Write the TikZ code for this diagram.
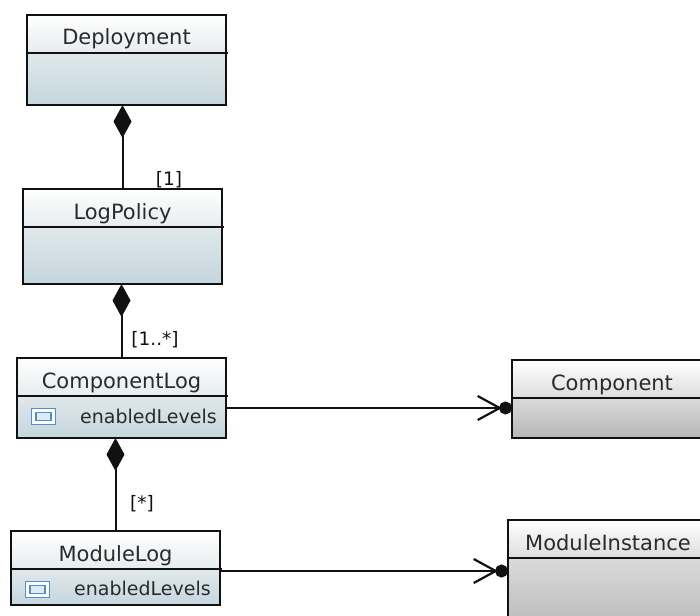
\documentclass[tikz,border=0pt]{standalone}
\usepackage{fontspec}
\setmainfont{DejaVu Sans}
\usetikzlibrary{arrows.meta}
\definecolor{edgeblack}{HTML}{111111}
\definecolor{labeltext}{HTML}{2A2A2A}
\definecolor{iconblue}{HTML}{4F8FCB}
\definecolor{iconfill}{HTML}{DCEBF5}
\definecolor{bluehead}{HTML}{E6ECEE}
\definecolor{grayhead}{HTML}{DCDCDC}
\definecolor{bluetop}{HTML}{E0E8EA}
\definecolor{bluebottom}{HTML}{C5D6DE}
\definecolor{graytop}{HTML}{DADADA}
\definecolor{graybottom}{HTML}{B6B6B6}
\tikzset{
    headbox/.style={draw=edgeblack,line width=1.6pt,inner sep=0pt,outer sep=0pt,text=labeltext,font=\fontsize{21}{24}\selectfont,text height=27pt,text depth=5pt,anchor=north west,top color=white,bottom color=#1},
    headbox/.default={bluehead},
    bodybox/.style n args={2}{draw=edgeblack,line width=1.6pt,inner sep=0pt,outer sep=0pt,anchor=north,top color=#1,bottom color=#2},
    bluebody/.style={bodybox={bluetop}{bluebottom}},
    graybody/.style={bodybox={graytop}{graybottom}},
    attrtext/.style={anchor=west,inner sep=0pt,text=labeltext,font=\fontsize{19}{23}\selectfont},
    multtext/.style={inner sep=0pt,text=edgeblack,font=\fontsize{18.5}{21}\selectfont},
    iconouter/.style={draw=iconblue,line width=1.6pt,fill=white,minimum width=24pt,minimum height=16pt,inner sep=0pt},
    iconinner/.style={draw=iconblue,line width=1.2pt,fill=iconfill,minimum width=15pt,minimum height=8pt,inner sep=0pt},
    compline/.style={edgeblack,line width=2pt,-{Diamond[length=33pt,width=18pt]}},
    refline/.style={edgeblack,line width=1.8pt,-{Straight Barb[length=22pt,width=24pt,line width=2.2pt,sep=-3pt]Circle[length=13pt]}},
    divider/.style={edgeblack,line width=1.6pt},
}
\begin{document}
\begin{tikzpicture}[x=1pt,y=-1pt]
    \useasboundingbox (0,0) rectangle (700,615);

    % classes on the left
    \node[headbox,minimum width=199pt,minimum height=38pt] (deployhead) at (27,15){Deployment};
    \node[bluebody,minimum width=199pt,minimum height=52pt] (deploybody) at (deployhead.south){};
    \node[headbox,minimum width=199pt,minimum height=38pt] (policyhead) at (23,189){LogPolicy};
    \node[bluebody,minimum width=199pt,minimum height=57pt] (policybody) at (policyhead.south){};
    \node[headbox,minimum width=209pt,minimum height=38pt] (comploghead) at (17,358){ComponentLog};
    \node[bluebody,minimum width=209pt,minimum height=42pt] (complogbody) at (comploghead.south){};
    \node[headbox,minimum width=209pt,minimum height=38pt] (modloghead) at (11,531){ModuleLog};
    \node[bluebody,minimum width=209pt,minimum height=36pt] (modlogbody) at (modloghead.south){};

    % classes on the right, cut by the page edge
    \node[headbox=grayhead,minimum width=200pt,minimum height=38pt] (comphead) at (512,360){Component};
    \node[graybody,minimum width=200pt,minimum height=40pt] (compbody) at (comphead.south){};
    \node[headbox=grayhead,minimum width=200pt,minimum height=38pt] (modinsthead) at (508,520){ModuleInstance};
    \node[graybody,minimum width=200pt,minimum height=80pt] (modinstbody) at (modinsthead.south){};

    % dividers run a little past the box
    \draw[divider] (deployhead.south west) -- ([xshift=2pt]deployhead.south east);
    \draw[divider] (policyhead.south west) -- ([xshift=2pt]policyhead.south east);
    \draw[divider] (comploghead.south west) -- ([xshift=2pt]comploghead.south east);
    \draw[divider] (modloghead.south west) -- ([xshift=2pt]modloghead.south east);

    % attributes
    \node[iconouter] (compicon) at (43.5,416.5){};
    \node[iconinner] (compiconin) at (compicon.center){};
    \node[attrtext] (compattr) at (80,416){enabledLevels};
    \node[iconouter] (modicon) at (37.5,589.5){};
    \node[iconinner] (modiconin) at (modicon.center){};
    \node[attrtext] (modattr) at (74,588){enabledLevels};

    % multiplicities
    \node[multtext] (multone) at (169,180){[1]};
    \node[multtext] (multmany) at (155,340){[1..*]};
    \node[multtext] (multstar) at (142,504){[*]};

    % connectors
    \draw[compline] (policyhead.north) -- (policyhead.north |- deploybody.south);
    \draw[compline] (comploghead.north) -- (comploghead.north |- policybody.south);
    \draw[compline] (modloghead.north) -- (modloghead.north |- complogbody.south);
    \draw[refline] ([yshift=9pt]complogbody.east) -- ([yshift=10pt]compbody.west);
    \draw[refline] ([yshift=16pt]modlogbody.east) -- ([yshift=27pt]modinstbody.west);
\end{tikzpicture}
\end{document}
